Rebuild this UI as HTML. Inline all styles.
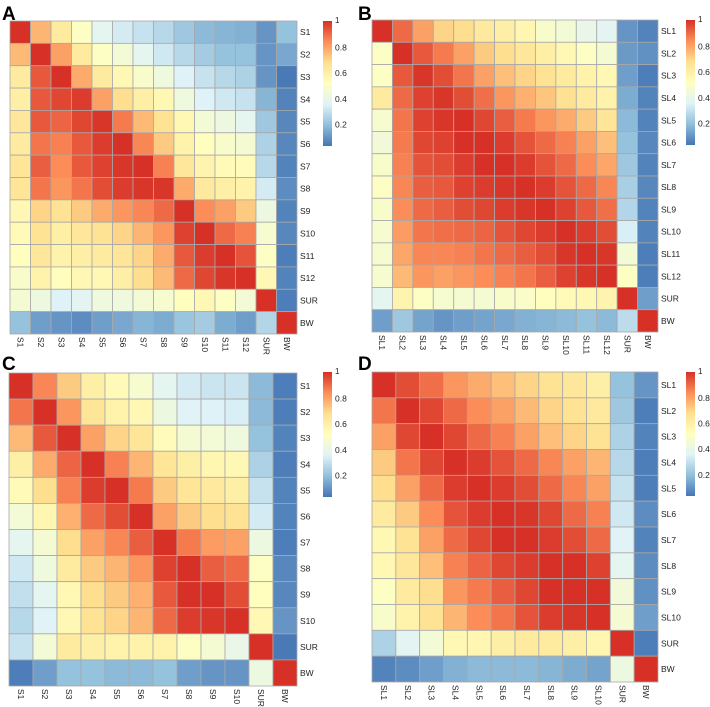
<!DOCTYPE html>
<html><head><meta charset="utf-8">
<style>
body{margin:0;background:#fff;}
svg{display:block;font-family:"Liberation Sans",sans-serif;}
</style></head>
<body>
<svg id="chart" width="710" height="707" viewBox="0 0 710 707">
<defs>
<linearGradient id="cbar" x1="0" y1="1" x2="0" y2="0">
<stop offset="0" stop-color="#4575B4"/><stop offset="0.1667" stop-color="#91BFDB"/>
<stop offset="0.3333" stop-color="#E0F3F8"/><stop offset="0.5" stop-color="#FFFFBF"/>
<stop offset="0.6667" stop-color="#FEE090"/><stop offset="0.8333" stop-color="#FC8D59"/>
<stop offset="1" stop-color="#D73027"/>
</linearGradient>
</defs>
</svg>
<script>
const labelsA = ["S1","S2","S3","S4","S5","S6","S7","S8","S9","S10","S11","S12","SUR","BW"];
const valuesA = [
[1,.76,.62,.5,.38,.33,.3,.27,.22,.18,.17,.16,.1,.2],
[.75,1,.8,.62,.5,.45,.38,.32,.27,.23,.2,.2,.1,.14],
[.62,.93,1,.78,.62,.55,.48,.43,.35,.3,.27,.25,.1,.04],
[.6,.93,.96,.98,.8,.68,.6,.55,.43,.35,.32,.3,.17,.06],
[.64,.93,.91,.96,.99,.87,.75,.66,.55,.45,.42,.38,.22,.07],
[.62,.88,.86,.93,.98,1,.85,.72,.58,.52,.48,.46,.25,.07],
[.65,.92,.84,.93,.97,.99,1,.86,.64,.57,.54,.53,.27,.06],
[.65,.88,.82,.88,.95,.98,.99,.99,.78,.63,.6,.58,.33,.08],
[.55,.7,.66,.72,.78,.82,.85,.9,1,.84,.8,.72,.42,.06],
[.54,.66,.6,.64,.66,.7,.76,.82,.97,1,.9,.86,.47,.07],
[.52,.64,.58,.6,.62,.65,.7,.78,.93,.98,1,.94,.5,.05],
[.48,.58,.52,.55,.55,.6,.68,.75,.9,.96,.99,1,.55,.06],
[.46,.42,.35,.37,.43,.43,.45,.47,.52,.55,.5,.45,1,.05],
[.2,.12,.1,.08,.12,.14,.17,.15,.21,.23,.15,.12,.26,1]];
const labelsB = ["SL1","SL2","SL3","SL4","SL5","SL6","SL7","SL8","SL9","SL10","SL11","SL12","SUR","BW"];
const valuesB = [
[1,.9,.8,.7,.68,.63,.6,.56,.48,.45,.4,.37,.1,.06],
[.5,1,.93,.87,.8,.72,.68,.64,.6,.55,.5,.46,.11,.09],
[.5,.93,.99,.95,.88,.8,.74,.7,.66,.62,.58,.55,.12,.05],
[.62,.9,.97,.99,.95,.89,.82,.77,.73,.67,.62,.58,.15,.06],
[.47,.88,.97,.99,1,.96,.92,.87,.82,.78,.72,.65,.18,.06],
[.44,.87,.96,.97,1,1,.98,.94,.9,.86,.8,.74,.2,.07],
[.48,.86,.94,.95,.98,1,1,.98,.94,.9,.84,.79,.22,.06],
[.5,.85,.92,.93,.97,.98,.99,1,.98,.94,.9,.85,.24,.07],
[.48,.84,.9,.92,.95,.96,.98,.99,1,.97,.93,.89,.26,.06],
[.47,.81,.88,.89,.9,.91,.94,.96,.98,1,.98,.95,.34,.06],
[.47,.79,.85,.85,.86,.88,.9,.92,.95,.99,1,.99,.45,.05],
[.47,.75,.82,.8,.82,.84,.86,.88,.92,.97,.99,1,.5,.05],
[.38,.57,.5,.47,.46,.46,.48,.49,.52,.54,.55,.57,1,.12],
[.12,.22,.13,.1,.12,.13,.14,.16,.17,.18,.2,.18,.28,1]];
const labelsC = ["S1","S2","S3","S4","S5","S6","S7","S8","S9","S10","SUR","BW"];
const valuesC = [
[1,.85,.72,.6,.54,.47,.38,.33,.31,.31,.18,.05],
[.88,1,.82,.65,.58,.55,.42,.36,.35,.34,.18,.05],
[.75,.93,1,.8,.7,.65,.53,.46,.45,.43,.2,.06],
[.6,.78,.91,1,.86,.76,.65,.6,.56,.55,.25,.05],
[.54,.68,.86,.98,1,.87,.72,.65,.63,.6,.3,.06],
[.45,.56,.77,.9,.95,1,.8,.72,.68,.66,.33,.06],
[.38,.46,.68,.8,.85,.92,1,.87,.81,.8,.42,.05],
[.32,.43,.62,.72,.76,.82,.97,1,.92,.9,.5,.07],
[.29,.38,.55,.68,.72,.77,.93,1,1,.95,.52,.07],
[.27,.36,.55,.66,.7,.76,.9,.98,.99,1,.55,.1],
[.3,.45,.62,.6,.58,.58,.58,.5,.46,.4,1,.04],
[.05,.12,.2,.2,.18,.18,.2,.12,.1,.1,.42,1]];
const labelsD = ["SL1","SL2","SL3","SL4","SL5","SL6","SL7","SL8","SL9","SL10","SUR","BW"];
const valuesD = [
[1,.95,.89,.82,.78,.74,.7,.66,.64,.6,.2,.1],
[.88,1,.96,.9,.84,.8,.75,.7,.66,.63,.22,.05],
[.8,.96,1,.96,.9,.86,.8,.74,.7,.66,.25,.06],
[.72,.88,.96,1,.98,.94,.9,.85,.8,.76,.27,.05],
[.68,.8,.9,.98,1,.98,.95,.9,.85,.8,.3,.05],
[.62,.72,.84,.94,.98,1,.99,.96,.9,.86,.32,.08],
[.55,.66,.8,.9,.96,1,1,.98,.95,.9,.36,.06],
[.55,.64,.74,.86,.91,.96,.98,1,1,.97,.38,.08],
[.5,.62,.68,.82,.87,.92,.96,1,1,1,.44,.09],
[.48,.58,.66,.76,.84,.88,.94,.98,.99,1,.46,.12],
[.25,.37,.45,.55,.56,.6,.62,.62,.6,.56,1,.05],
[.06,.08,.12,.16,.18,.18,.18,.17,.15,.13,.42,1]];
const legendTicks = [0.2,0.4,0.6,0.8,1];

const NS = "http://www.w3.org/2000/svg";
const svg = document.getElementById('chart');
const stops = ["#4575B4","#91BFDB","#E0F3F8","#FFFFBF","#FEE090","#FC8D59","#D73027"];
const VMIN = 0.03, VMAX = 1;
function hex(c){return [parseInt(c.slice(1,3),16),parseInt(c.slice(3,5),16),parseInt(c.slice(5,7),16)];}
function colorOf(v){
  let t = Math.max(0, Math.min(1, (v - VMIN) / (VMAX - VMIN))) * (stops.length - 1);
  let i = Math.min(stops.length - 2, Math.floor(t)), f = t - i;
  let a = hex(stops[i]), b = hex(stops[i+1]);
  return "rgb(" + a.map((x,k)=>Math.round(x + (b[k]-x)*f)).join(",") + ")";
}
function mk(tag, attrs, parent){
  const e = document.createElementNS(NS, tag);
  for (const k in attrs) e.setAttribute(k, attrs[k]);
  (parent||svg).appendChild(e); return e;
}
function panel(letter, labels, values, gx0, gy0, gx1, gy1, cbx, cby0, cby1, lx, ly){
  const g = mk('g', {});
  
  
  const t = mk('text', {x: lx, y: ly, 'font-size': 19, 'font-weight': 'bold', fill: '#000'}, g);
  t.textContent = letter;
  
  
  const n = labels.length;
  const cw = (gx1 - gx0) / n, ch = (gy1 - gy0) / n;
  const xs = i => gx0 + i * cw, ys = j => gy0 + j * ch;
  for (let r = 0; r < n; r++) for (let c = 0; c < n; c++) {
    const rect = mk('rect', {x: xs(c), y: ys(r), width: cw, height: ch, fill: colorOf(values[r][c]), stroke: '#a8a8a8', 'stroke-width': 0.8}, g);
    
    
  }
  for (let r = 0; r < n; r++) {
    const tx = mk('text', {x: gx1 + 3, y: ys(r) + ch/2 + 3, 'font-size': 8.5, fill: '#222'}, g);
    tx.textContent = labels[r];
    
    
  }
  for (let c = 0; c < n; c++) {
    const x = xs(c) + cw/2 - 3, y = gy1 + 3;
    const tx = mk('text', {x: x, y: y, 'font-size': 8.5, fill: '#222', transform: 'rotate(90 ' + x + ' ' + y + ')'}, g);
    tx.textContent = labels[c];
    
    
  }
  const bar = mk('rect', {x: cbx, y: cby0, width: 9, height: cby1 - cby0, fill: 'url(#cbar)'}, g);
  
  
  const vy = v => cby1 - (v - VMIN) / (VMAX - VMIN) * (cby1 - cby0);
  legendTicks.forEach(v => {
    const tx = mk('text', {x: cbx + 12, y: vy(v) + (v === 1 ? 2 : 3.5), 'font-size': v === 1 ? 8 : 8.5, fill: '#222'}, g);
    tx.textContent = String(v);
    
    
  });
}
panel('A', labelsA, valuesA, 10, 21, 297, 334, 323, 21, 146, 2, 20);
panel('B', labelsB, valuesB, 372, 20, 658, 332, 686, 20, 145, 358, 20);
panel('C', labelsC, valuesC, 9, 373, 297, 686, 323, 372, 497, 2, 370);
panel('D', labelsD, valuesD, 372, 372, 658, 682, 686, 372, 496, 358, 370);
</script>
</body></html>
